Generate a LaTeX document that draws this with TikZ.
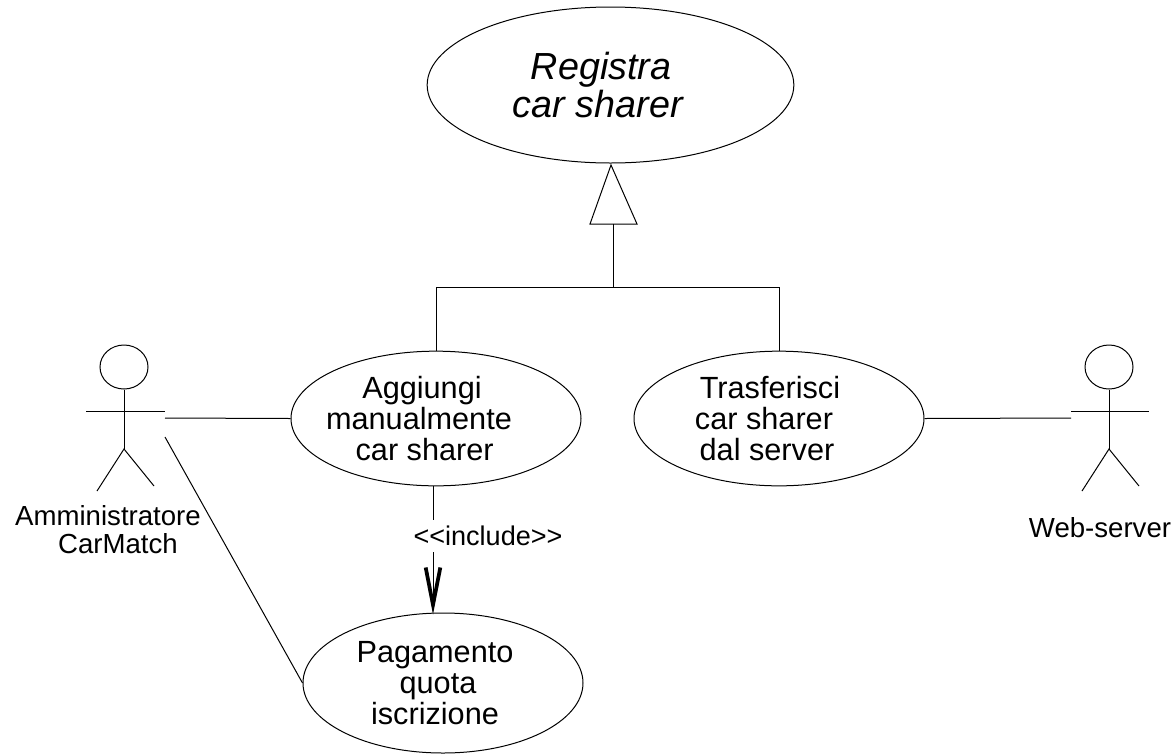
\documentclass[tikz,border=0pt]{standalone}
\usepackage{fontspec}
\setmainfont{Liberation Sans}
\usetikzlibrary{shapes.geometric,arrows.meta}
\newcommand{\padline}[2]{\mbox{#1\kern#2}}

\begin{document}
\begin{tikzpicture}[
    x=0.75pt,
    y=-0.75pt,
    line width=0.75pt,
    usecase/.style={
        ellipse,
        draw=black,
        inner sep=-40pt,
        align=center,
        minimum width=217.5pt,
        minimum height=101pt,
        font=\fontsize{23}{23.5}\selectfont
    },
    abstractcase/.style={
        usecase,
        minimum width=275pt,
        minimum height=117pt,
        font=\fontsize{28.3}{29}\selectfont\itshape
    },
    head/.style={ellipse, draw=black, inner sep=0pt, minimum width=36pt, minimum height=33pt},
    actorname/.style={align=center, inner sep=0pt, font=\fontsize{20.7}{21}\selectfont},
    line/.style={draw=black},
    include/.style={draw=black, shorten >=-1.5pt, -{Straight Barb[length=28pt,width=11pt,line width=2.8pt]}}
]
    \useasboundingbox (0,0) rectangle (1175,754);

    % Use cases
    \node[abstractcase] (registra) at (610.5,85) {\padline{Registra}{14pt}\\\padline{car sharer}{19pt}};
    \node[usecase] (aggiungi) at (436,418.5) {\padline{Aggiungi}{21pt}\\\padline{manualmente}{25.5pt}\\\padline{car sharer}{17pt}};
    \node[usecase] (trasferisci) at (779,418.5) {\padline{Trasferisci}{13.5pt}\\\padline{car sharer}{22.5pt}\\\padline{dal server}{18pt}};
    \node[usecase, minimum width=210pt, minimum height=105pt] (pagamento) at (443,683) {\padline{Pagamento}{12pt}\\\padline{quota}{7.5pt}\\\padline{iscrizione}{12pt}};

    % Actor on the left
    \node[head] (adminhead) at (124,367) {};
    \coordinate (adminhip) at (124,449);
    \coordinate (adminarml) at (86,411);
    \coordinate (adminarmr) at (165,411);
    \coordinate (adminlegl) at (97,491);
    \coordinate (adminlegr) at (154,486);
    \coordinate (adminhand) at (165,418);
    \coordinate (adminfoot) at (165,437);
    \draw[line] (adminhead) -- (adminhip);
    \draw[line] (adminarml) -- (adminarmr);
    \draw[line] (adminlegl) -- (adminhip) -- (adminlegr);
    \node[actorname] (admin) at (108,530) {Amministratore\\\hspace*{15pt}CarMatch};

    % Actor on the right
    \node[head] (webhead) at (1109,367) {};
    \coordinate (webhip) at (1109,449);
    \coordinate (webarml) at (1071,411);
    \coordinate (webarmr) at (1149,411);
    \coordinate (weblegl) at (1082,491);
    \coordinate (weblegr) at (1139,486);
    \coordinate (webhand) at (1071,418);
    \draw[line] (webhead) -- (webhip);
    \draw[line] (webarml) -- (webarmr);
    \draw[line] (weblegl) -- (webhip) -- (weblegr);
    \node[actorname] (web) at (1100,528) {Web-server};

    % Generalisation
    \coordinate (triapex) at (611,165);
    \coordinate (trileft) at (590,224);
    \coordinate (triright) at (637,224);
    \coordinate (tribase) at (613,224);
    \coordinate (trijoin) at (613,287);
    \draw[line] (triapex) -- (trileft) -- (triright) -- cycle;
    \draw[line] (tribase) -- (trijoin);
    \draw[line] (aggiungi.north) -- (aggiungi.north |- trijoin) -- (trasferisci.north |- trijoin) -- (trasferisci.north);

    % Connections
    \draw[line] (adminhand) -- (aggiungi.west);
    \draw[line] (adminfoot) -- (pagamento.west);
    \draw[line] (trasferisci.east) -- (webhand);
    \draw[include] ([xshift=-2.25pt]aggiungi.south) -- ([xshift=-2.25pt]aggiungi.south |- pagamento.north);
    \node[fill=white, inner sep=0pt, minimum height=24.5pt, font=\fontsize{20.3}{22}\selectfont] (includelabel) at (488,536) {<{}<include>{}>};
\end{tikzpicture}
\end{document}
